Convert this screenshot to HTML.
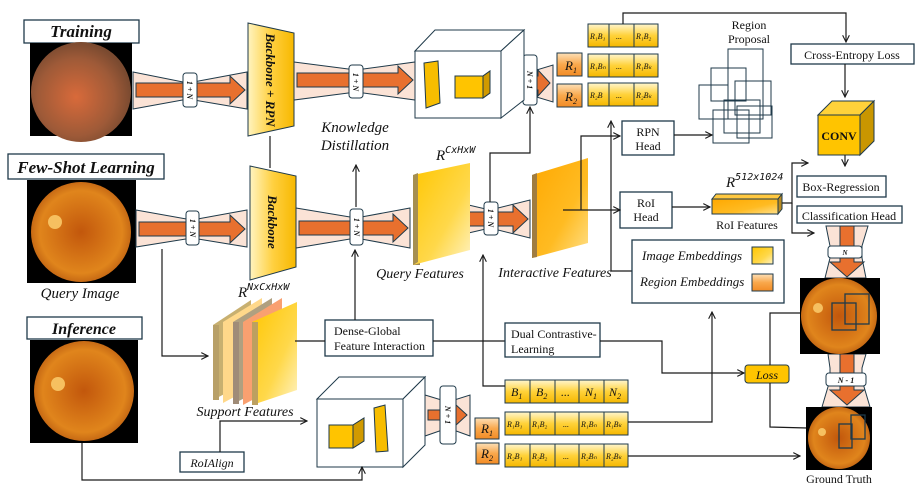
<!DOCTYPE html>
<html><head><meta charset="utf-8"><style>
body{margin:0;background:#fff}
svg{display:block}
text{font-family:"Liberation Serif",serif;fill:#111}
.it{font-style:italic}
.b{font-weight:bold}
.ln{stroke:#1a1a1a;stroke-width:1.2;fill:none}
.bx{fill:#fff;stroke:#1f3a4a;stroke-width:1.3}
</style></head><body>
<svg width="920" height="488" viewBox="0 0 920 488" xmlns="http://www.w3.org/2000/svg">
<defs>
<marker id="ar" viewBox="0 0 10 10" refX="9" refY="5" markerWidth="7" markerHeight="7" orient="auto-start-reverse"><path d="M1,1 L9,5 L1,9" fill="none" stroke="#1a1a1a" stroke-width="1.3"/></marker>
<linearGradient id="yel" x1="0" y1="0" x2="1" y2="0"><stop offset="0" stop-color="#fff4c0"/><stop offset="0.5" stop-color="#ffd040"/><stop offset="1" stop-color="#f7b800"/></linearGradient>
<linearGradient id="yelv" x1="0" y1="0" x2="0" y2="1"><stop offset="0" stop-color="#fff6d0"/><stop offset="0.5" stop-color="#ffd23a"/><stop offset="1" stop-color="#f5b700"/></linearGradient>
<linearGradient id="org" x1="0" y1="0" x2="0" y2="1"><stop offset="0" stop-color="#fde0b8"/><stop offset="0.5" stop-color="#f9a84c"/><stop offset="1" stop-color="#f28b25"/></linearGradient>
<linearGradient id="plate" x1="0" y1="0" x2="1" y2="1"><stop offset="0" stop-color="#ffc600"/><stop offset="0.6" stop-color="#ffd84a"/><stop offset="1" stop-color="#fff3c4"/></linearGradient>
<linearGradient id="plate2" x1="0" y1="0" x2="1" y2="1"><stop offset="0" stop-color="#ffa800"/><stop offset="0.6" stop-color="#ffbb22"/><stop offset="1" stop-color="#ffe08a"/></linearGradient>
<radialGradient id="f1" cx="0.45" cy="0.55" r="0.55"><stop offset="0" stop-color="#d86a3a"/><stop offset="0.7" stop-color="#9e5a38"/><stop offset="1" stop-color="#7a4a30"/></radialGradient>
<radialGradient id="f2" cx="0.5" cy="0.5" r="0.55"><stop offset="0" stop-color="#c2570c"/><stop offset="0.75" stop-color="#e0851c"/><stop offset="1" stop-color="#b85a10"/></radialGradient>
</defs>

<!-- Training -->
<rect x="24" y="20" width="115" height="23" class="bx"/>
<text x="81" y="37" text-anchor="middle" class="it b" font-size="17">Training</text>
<rect x="30" y="43" width="102" height="93" fill="#000"/>
<circle cx="81" cy="92" r="50" fill="url(#f1)"/>
<!-- Few-shot -->
<rect x="8" y="154" width="156" height="25" class="bx"/>
<text x="86" y="173" text-anchor="middle" class="it b" font-size="17">Few-Shot Learning</text>
<rect x="27" y="180" width="109" height="103" fill="#000"/>
<circle cx="81" cy="232" r="50" fill="url(#f2)"/>
<circle cx="55" cy="222" r="7" fill="#f6c060"/>
<text x="80" y="298" text-anchor="middle" class="it" font-size="15">Query Image</text>
<!-- Inference -->
<rect x="27" y="317" width="115" height="22" class="bx"/>
<text x="84" y="334" text-anchor="middle" class="it b" font-size="16">Inference</text>
<rect x="30" y="340" width="108" height="103" fill="#000"/>
<circle cx="84" cy="391" r="50" fill="url(#f2)"/>
<circle cx="58" cy="384" r="7" fill="#f6c060"/>

<!-- funnels -->
<g stroke="#1f3a4a" stroke-width="1" fill="#fbe3d6">
<polygon points="133,72 188,83 247,72 247,109 188,99 133,109"/>
<polygon points="294,62 356,70 415,62 415,100 356,92 294,100"/>
<polygon points="510,65 530,72 553,65 553,102 530,95 510,102"/>
<polygon points="136,210 192,220 247,210 247,247 192,238 136,247"/>
<polygon points="296,208 356,218 410,208 410,248 356,238 296,248"/>
<polygon points="447,200 490,210 530,200 530,238 490,228 447,238"/>
<polygon points="425,395 448,402 470,395 470,436 448,428 425,436"/>
<polygon points="826,226 868,226 862,246 862,258 866,278 825,278 830,258 830,246"/>
<polygon points="828,354 866,354 862,368 862,380 870,407 822,407 830,380 830,368"/>
</g>
<g fill="#e8702e" stroke="#1f3a4a" stroke-width="1">
<polygon points="136,83 230,83 230,76 245,90 230,104 230,97 136,97"/>
<polygon points="297,73 398,73 398,66 413,80 398,94 398,87 297,87"/>
<polygon points="512,76 538,76 538,70 550,83 538,96 538,90 512,90"/>
<polygon points="139,222 230,222 230,215 245,229 230,243 230,236 139,236"/>
<polygon points="299,221 393,221 393,214 408,228 393,242 393,235 299,235"/>
<polygon points="449,212 513,212 513,205 528,219 513,233 513,226 449,226"/>
<polygon points="428,410 455,410 455,404 467,415 455,426 455,420 428,420"/>
<polygon points="840,226 854,226 854,262 864,262 847,277 830,262 840,262"/>
<polygon points="840,354 854,354 854,390 864,390 847,405 830,390 840,390"/>
</g>
<!-- node labels -->
<g fill="#fff" stroke="#1f3a4a" stroke-width="1">
<rect x="183" y="73" width="14" height="34" rx="3"/>
<rect x="349" y="65" width="14" height="33" rx="3"/>
<rect x="523" y="55" width="14" height="50" rx="3"/>
<rect x="186" y="211" width="13" height="34" rx="3"/>
<rect x="350" y="209" width="13" height="36" rx="3"/>
<rect x="484" y="202" width="14" height="33" rx="3"/>
<rect x="440" y="386" width="16" height="58" rx="3"/>
<rect x="828" y="246" width="34" height="12" rx="3"/>
<rect x="826" y="373" width="40" height="13" rx="3"/>
</g>
<g font-size="8" class="it b">
<text transform="translate(187,90) rotate(90)" text-anchor="middle">1 + N</text>
<text transform="translate(353,82) rotate(90)" text-anchor="middle">1 + N</text>
<text transform="translate(527,80) rotate(90)" text-anchor="middle">N + 1</text>
<text transform="translate(190,228) rotate(90)" text-anchor="middle">1 + N</text>
<text transform="translate(354,227) rotate(90)" text-anchor="middle">1 + N</text>
<text transform="translate(488,218) rotate(90)" text-anchor="middle">1 + N</text>
<text transform="translate(445,415) rotate(90)" text-anchor="middle">N + 1</text>
<text x="845" y="255" text-anchor="middle" font-size="7">N</text>
<text x="846" y="383" text-anchor="middle" font-size="8">N - 1</text>
</g>

<!-- backbones -->
<polygon points="248,23 294,33 294,126 248,136" fill="url(#yel)" stroke="#1f3a4a" stroke-width="1"/>
<text transform="translate(266,80) rotate(90)" text-anchor="middle" class="it b" font-size="13">Backbone + RPN</text>
<line x1="270" y1="136" x2="270" y2="168" class="ln"/>
<polygon points="250,166 296,176 296,267 250,280" fill="url(#yel)" stroke="#1f3a4a" stroke-width="1"/>
<text transform="translate(268,222) rotate(90)" text-anchor="middle" class="it b" font-size="13">Backbone</text>

<!-- cube 1 -->
<g stroke="#1f3a4a" stroke-width="1">
<polygon points="415,51 435,30 524,30 501,51" fill="#fff"/>
<polygon points="501,51 524,30 524,100 501,118" fill="#fff"/>
<rect x="415" y="51" width="86" height="67" fill="#fff"/>
<polygon points="424,63 438,61 440,103 426,108" fill="#f7bd00"/>
<polygon points="455,76 483,76 490,71 490,93 483,98 455,98" fill="#ffc400"/>
<polygon points="483,76 490,71 490,93 483,98" fill="#d19a00"/>
</g>
<text x="355" y="132" text-anchor="middle" class="it" font-size="15">Knowledge</text>
<text x="355" y="150" text-anchor="middle" class="it" font-size="15">Distillation</text>
<line x1="356" y1="207" x2="356" y2="165" class="ln" marker-end="url(#ar)"/>

<!-- R boxes top -->
<g stroke="#1f3a4a" stroke-width="1" fill="url(#org)">
<rect x="557" y="53" width="25" height="23"/>
<rect x="557" y="84" width="25" height="23"/>
<rect x="475" y="418" width="24" height="21"/>
<rect x="476" y="443" width="23" height="21"/>
</g>
<g class="it" font-size="13">
<text x="565" y="70">R<tspan font-size="8" dy="3">1</tspan></text>
<text x="565" y="101">R<tspan font-size="8" dy="3">2</tspan></text>
<text x="481" y="433">R<tspan font-size="8" dy="3">1</tspan></text>
<text x="481" y="458">R<tspan font-size="8" dy="3">2</tspan></text>
</g>
<g stroke="#1f3a4a" stroke-width="1" fill="url(#yelv)">
<rect x="588" y="24" width="21" height="23"/><rect x="609" y="24" width="25" height="23"/><rect x="634" y="24" width="24" height="23"/>
<rect x="588" y="54" width="21" height="23"/><rect x="609" y="54" width="25" height="23"/><rect x="634" y="54" width="24" height="23"/>
<rect x="588" y="83" width="21" height="23"/><rect x="609" y="83" width="25" height="23"/><rect x="634" y="83" width="24" height="23"/>
</g>
<g class="it" font-size="8">
<text x="590" y="39">R₁B₁</text><text x="616" y="39">...</text><text x="636" y="39">R₁B₂</text>
<text x="590" y="69">R₁Bₙ</text><text x="616" y="69">...</text><text x="636" y="69">R₁Bₖ</text>
<text x="590" y="98">R₂B</text><text x="616" y="98">...</text><text x="636" y="98">R₂Bₖ</text>
</g>
<polyline points="623,24 623,13 846,13 846,42" class="ln" marker-end="url(#ar)"/>

<!-- region proposal -->
<text x="749" y="29" text-anchor="middle" font-size="12">Region</text>
<text x="749" y="43" text-anchor="middle" font-size="12">Proposal</text>
<g fill="none" stroke="#1f3a4a" stroke-width="1">
<rect x="728" y="49" width="35" height="70"/><rect x="711" y="68" width="35" height="33"/>
<rect x="735" y="81" width="36" height="34"/><rect x="699" y="85" width="29" height="34"/>
<rect x="724" y="100" width="36" height="33"/><rect x="713" y="110" width="36" height="33"/>
<rect x="737" y="106" width="35" height="32"/>
</g>

<rect x="791" y="44" width="123" height="20" class="bx"/>
<text x="852" y="59" text-anchor="middle" font-size="12">Cross-Entropy Loss</text>
<line x1="845" y1="64" x2="845" y2="97" class="ln" marker-end="url(#ar)"/>
<g stroke="#1f3a4a" stroke-width="1">
<rect x="818" y="115" width="42" height="40" fill="#ffc400"/>
<polygon points="818,115 832,101 874,101 860,115" fill="#ffd23a"/>
<polygon points="860,115 874,101 874,141 860,155" fill="#c99600"/>
</g>
<text x="839" y="140" text-anchor="middle" class="b" font-size="12">CONV</text>
<line x1="845" y1="155" x2="845" y2="166" class="ln" marker-end="url(#ar)"/>
<rect x="797" y="176" width="89" height="21" class="bx"/>
<text x="841" y="191" text-anchor="middle" font-size="12">Box-Regression</text>
<rect x="797" y="206" width="105" height="17" class="bx"/>
<text x="849" y="220" text-anchor="middle" font-size="12">Classification Head</text>

<!-- RPN / RoI heads -->
<rect x="622" y="121" width="52" height="34" class="bx"/>
<text x="648" y="136" text-anchor="middle" font-size="12">RPN</text>
<text x="648" y="150" text-anchor="middle" font-size="12">Head</text>
<line x1="674" y1="135" x2="712" y2="135" class="ln" marker-end="url(#ar)"/>
<rect x="620" y="192" width="52" height="36" class="bx"/>
<text x="646" y="207" text-anchor="middle" font-size="12">RoI</text>
<text x="646" y="221" text-anchor="middle" font-size="12">Head</text>
<line x1="672" y1="207" x2="710" y2="207" class="ln" marker-end="url(#ar)"/>
<text x="726" y="187" class="it" font-size="15">R<tspan font-size="10" dy="-7" font-family="DejaVu Sans Mono">512x1024</tspan></text>
<g stroke="#1f3a4a" stroke-width="1">
<rect x="712" y="199" width="66" height="15" fill="url(#plate2)"/>
<polygon points="712,199 716,194 782,194 778,199" fill="#ffc840"/>
<polygon points="778,199 782,194 782,209 778,214" fill="#b98a20"/>
</g>
<text x="747" y="229" text-anchor="middle" font-size="12">RoI Features</text>
<polyline points="782,203 792,203 792,163 808,163" class="ln" marker-end="url(#ar)"/>
<polyline points="792,203 792,233 814,233" class="ln" marker-end="url(#ar)"/>

<!-- query / interactive plates -->
<polygon points="413,175 420,175 420,265 413,265" fill="#a08a58"/>
<polygon points="413,175 470,163 470,250 413,265" fill="url(#plate)"/>
<polygon points="413,175 418,173 418,262 413,265" fill="#a68f50"/>
<text x="378" y="160" class="it" font-size="15" x-offset="0">
</text>
<text x="436" y="160" class="it" font-size="15">R<tspan font-size="10" dy="-7" font-family="DejaVu Sans Mono">CxHxW</tspan></text>
<text x="420" y="278" text-anchor="middle" class="it" font-size="14">Query Features</text>
<polygon points="532,175 588,158 588,243 532,258" fill="url(#plate2)"/>
<polygon points="532,175 537,173 537,257 532,258" fill="#a07c40"/>
<text x="555" y="277" text-anchor="middle" class="it" font-size="14">Interactive Features</text>
<polyline points="490,202 490,153 530,153 530,107" class="ln" marker-end="url(#ar)"/>
<polyline points="563,210 620,210" class="ln" marker-end="url(#ar)"/>
<polyline points="581,210 581,136 620,136" class="ln" marker-end="url(#ar)"/>
<polyline points="632,271 611,271 611,121" class="ln" marker-end="url(#ar)"/>

<!-- embeddings -->
<rect x="632" y="240" width="152" height="63" class="bx"/>
<text x="642" y="260" class="it" font-size="13">Image Embeddings</text>
<text x="640" y="286" class="it" font-size="13">Region Embeddings</text>
<rect x="752" y="247" width="21" height="17" fill="url(#plate)" stroke="#1f3a4a"/>
<rect x="752" y="274" width="21" height="17" fill="url(#org)" stroke="#1f3a4a"/>

<!-- support features -->
<text x="238" y="297" class="it" font-size="15">R<tspan font-size="10" dy="-7" font-family="DejaVu Sans Mono">NxCxHxW</tspan></text>
<g stroke="none">
<polygon points="213,325 251,300 251,380 213,400" fill="#c8b070"/>
<polygon points="223,322 262,298 262,382 223,403" fill="#ffd88a"/>
<polygon points="233,322 272,298 272,384 233,404" fill="#b0a080"/>
<polygon points="243,322 282,298 282,384 243,405" fill="#f9a070"/>
<polygon points="252,322 297,302 297,390 252,405" fill="url(#plate)"/>
<rect x="213" y="325" width="6" height="75" fill="#b8a068"/>
<rect x="233" y="322" width="6" height="82" fill="#a08c78"/>
<rect x="252" y="322" width="6" height="83" fill="#bca060"/>
</g>
<text x="245" y="416" text-anchor="middle" class="it" font-size="14">Support Features</text>
<polyline points="162,249 162,356 208,356" class="ln" marker-end="url(#ar)"/>

<rect x="325" y="320" width="108" height="36" class="bx"/>
<text x="334" y="335" font-size="12">Dense-Global</text>
<text x="334" y="350" font-size="12">Feature Interaction</text>
<line x1="295" y1="341" x2="325" y2="341" class="ln"/>
<line x1="355" y1="320" x2="355" y2="250" class="ln" marker-end="url(#ar)"/>
<line x1="433" y1="341" x2="505" y2="341" class="ln"/>
<rect x="505" y="323" width="95" height="34" class="bx"/>
<text x="511" y="338" font-size="12">Dual Contrastive-</text>
<text x="511" y="353" font-size="12">Learning</text>
<polyline points="600,341 662,341 662,373 744,373" class="ln" marker-end="url(#ar)"/>
<rect x="745" y="365" width="44" height="18" rx="3" fill="#ffc400" stroke="#1f3a4a"/>
<text x="767" y="379" text-anchor="middle" class="it" font-size="12">Loss</text>
<polyline points="800,313 770,313 770,365" class="ln"/>
<polyline points="770,383 770,427 807,428" class="ln"/>

<!-- B rows -->
<g stroke="#1f3a4a" stroke-width="1" fill="url(#yelv)">
<rect x="505" y="380" width="25" height="23"/><rect x="530" y="380" width="25" height="23"/><rect x="555" y="380" width="24" height="23"/><rect x="579" y="380" width="25" height="23"/><rect x="604" y="380" width="24" height="23"/>
<rect x="505" y="412" width="25" height="23"/><rect x="530" y="412" width="25" height="23"/><rect x="555" y="412" width="24" height="23"/><rect x="579" y="412" width="25" height="23"/><rect x="604" y="412" width="24" height="23"/>
<rect x="505" y="444" width="25" height="23"/><rect x="530" y="444" width="25" height="23"/><rect x="555" y="444" width="24" height="23"/><rect x="579" y="444" width="25" height="23"/><rect x="604" y="444" width="24" height="23"/>
</g>
<g class="it" font-size="12">
<text x="511" y="396">B<tspan font-size="8" dy="3">1</tspan></text><text x="536" y="396">B<tspan font-size="8" dy="3">2</tspan></text><text x="561" y="396">...</text><text x="585" y="396">N<tspan font-size="8" dy="3">1</tspan></text><text x="609" y="396">N<tspan font-size="8" dy="3">2</tspan></text>
</g>
<g class="it" font-size="8">
<text x="507" y="427">R₁B₁</text><text x="532" y="427">R₁B₂</text><text x="563" y="427">...</text><text x="581" y="427">R₁Bₙ</text><text x="606" y="427">R₁Bₖ</text>
<text x="507" y="459">R₂B₁</text><text x="532" y="459">R₂B₂</text><text x="563" y="459">...</text><text x="581" y="459">R₂Bₙ</text><text x="606" y="459">R₂Bₖ</text>
</g>
<polyline points="505,386 483,386 483,255" class="ln" marker-end="url(#ar)"/>
<polyline points="628,422 712,422 712,312" class="ln" marker-end="url(#ar)"/>
<line x1="628" y1="456" x2="800" y2="456" class="ln" marker-end="url(#ar)"/>

<!-- cube 2 -->
<g stroke="#1f3a4a" stroke-width="1">
<polygon points="317,399 339,377 425,377 403,399" fill="#fff"/>
<polygon points="403,399 425,377 425,445 403,467" fill="#fff"/>
<rect x="317" y="399" width="86" height="68" fill="#fff"/>
<polygon points="329,425 353,425 364,418 364,441 353,448 329,448" fill="#ffc400"/>
<polygon points="353,425 364,418 364,441 353,448" fill="#d19a00"/>
<polygon points="374,408 385,405 388,451 376,452" fill="#f7bd00"/>
</g>
<rect x="180" y="452" width="64" height="20" class="bx"/>
<text x="212" y="467" text-anchor="middle" class="it" font-size="12">RoIAlign</text>
<polyline points="220,452 220,421 307,421" class="ln" marker-end="url(#ar)"/>
<polyline points="82,443 82,480 362,480 362,467" class="ln" marker-end="url(#ar)"/>

<!-- right fundus images -->
<rect x="800" y="278" width="80" height="76" fill="#000"/>
<circle cx="839" cy="316" r="38" fill="url(#f2)"/>
<circle cx="818" cy="308" r="5" fill="#f6c060"/>
<rect x="832" y="303" width="24" height="27" fill="none" stroke="#1f3a4a" stroke-width="1.3"/>
<rect x="845" y="294" width="24" height="30" fill="none" stroke="#1f3a4a" stroke-width="1.3"/>
<rect x="806" y="407" width="66" height="63" fill="#000"/>
<circle cx="839" cy="438" r="31" fill="url(#f2)"/>
<circle cx="822" cy="432" r="4" fill="#f6c060"/>
<rect x="839" y="424" width="13" height="24" fill="none" stroke="#1f3a4a" stroke-width="1.3"/>
<rect x="851" y="415" width="14" height="24" fill="none" stroke="#1f3a4a" stroke-width="1.3"/>
<text x="839" y="483" text-anchor="middle" font-size="12">Ground Truth</text>
</svg>
</body></html>
